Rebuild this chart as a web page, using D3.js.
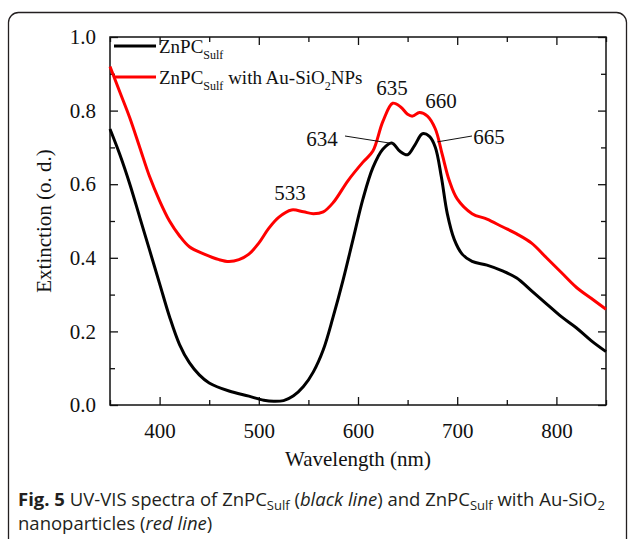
<!DOCTYPE html>
<html lang="en">
<head>
  <meta charset="UTF-8">
  <title>UV-VIS spectra</title>
  <style>
    body {
      margin: 0;
      background-color: white;
    }
    .serif {
      font-family: "Liberation Serif", "Times New Roman", serif;
      fill: #111;
    }
    .caption {
      font-family: "Open Sans", sans-serif;
      font-size: 18.5px;
      fill: #231f20;
    }
  </style>
</head>
<body>
  <svg id="chart" width="629" height="539"></svg>

  <script src="https://d3js.org/d3.v7.min.js"></script>
  <script>
    // ZnPC_Sulf (black line)
    var blackWl  = [350, 360, 370, 380, 390, 400, 410, 420, 430, 440, 450, 470, 490, 505, 515, 525, 535, 545, 555, 565, 575, 585, 595, 605, 615, 625, 634, 642, 650, 657, 665, 672, 678, 684, 690, 697, 705, 715, 730, 745, 760, 775, 790, 805, 820, 835, 850];
    var blackVal = [0.75, 0.68, 0.60, 0.51, 0.42, 0.33, 0.24, 0.165, 0.115, 0.082, 0.06, 0.038, 0.024, 0.013, 0.01, 0.012, 0.025, 0.05, 0.09, 0.15, 0.24, 0.34, 0.45, 0.56, 0.645, 0.695, 0.712, 0.69, 0.68, 0.705, 0.737, 0.73, 0.70, 0.62, 0.52, 0.45, 0.41, 0.39, 0.38, 0.365, 0.345, 0.31, 0.275, 0.24, 0.21, 0.175, 0.145];

    // ZnPC_Sulf with Au-SiO2 NPs (red line)
    var redWl  = [350, 360, 370, 380, 390, 400, 410, 420, 430, 445, 460, 470, 480, 490, 500, 510, 520, 533, 545, 555, 565, 575, 590, 605, 615, 625, 635, 643, 650, 655, 662, 670, 678, 685, 692, 700, 715, 730, 745, 760, 775, 790, 805, 820, 835, 850];
    var redVal = [0.92, 0.85, 0.78, 0.70, 0.62, 0.555, 0.50, 0.46, 0.43, 0.41, 0.395, 0.39, 0.395, 0.41, 0.44, 0.48, 0.51, 0.53, 0.525, 0.52, 0.525, 0.55, 0.61, 0.66, 0.69, 0.77, 0.82, 0.81, 0.79, 0.785, 0.795, 0.785, 0.75, 0.68, 0.61, 0.56, 0.52, 0.505, 0.485, 0.465, 0.44, 0.40, 0.36, 0.32, 0.29, 0.26];

    var xTicks = [400, 500, 600, 700, 800];
    var xMinor = [350, 450, 550, 650, 750, 850];
    var yTicks = [0.0, 0.2, 0.4, 0.6, 0.8, 1.0];
    var yMinor = [0.1, 0.3, 0.5, 0.7, 0.9];

    var peakLabels = ["533", "635", "660", "634", "665"];
    var peakWl     = [533, 635, 660, 634, 665];

    var svg = d3.select("#chart");

    // rounded frame around the figure
    svg.append("rect")
      .attr("x", 8.5)
      .attr("y", 12.5)
      .attr("width", 618)
      .attr("height", 540)
      .attr("rx", 10)
      .attr("fill", "white")
      .attr("stroke", "#231f20")
      .attr("stroke-width", 1.3);

    var margin = {left: 110, top: 37, right: 606, bottom: 405};

    var x = d3.scaleLinear().domain([350, 850]).range([margin.left, margin.right]);
    var y = d3.scaleLinear().domain([0, 1]).range([margin.bottom, margin.top]);

    var g = svg.append("g");

    // axes with inward ticks
    var axisStyle = function(sel) {
      sel.select(".domain").remove();
      sel.selectAll("line").attr("stroke", "#111").attr("stroke-width", 1.3);
      sel.selectAll("text").attr("class", "serif").style("font-size", "21px").attr("fill", "#111");
    };

    g.append("g")
      .attr("transform", "translate(0," + margin.bottom + ")")
      .call(d3.axisBottom(x).tickValues(xTicks).tickSize(-8).tickPadding(18).tickFormat(d3.format("d")))
      .call(axisStyle);
    g.append("g")
      .attr("transform", "translate(0," + margin.bottom + ")")
      .call(d3.axisBottom(x).tickValues(xMinor).tickSize(-5).tickFormat(""))
      .call(axisStyle);
    g.append("g")
      .attr("transform", "translate(0," + margin.top + ")")
      .call(d3.axisTop(x).tickValues(xTicks).tickSize(-8).tickFormat(""))
      .call(axisStyle);
    g.append("g")
      .attr("transform", "translate(0," + margin.top + ")")
      .call(d3.axisTop(x).tickValues(xMinor).tickSize(-5).tickFormat(""))
      .call(axisStyle);

    g.append("g")
      .attr("transform", "translate(" + margin.left + ",0)")
      .call(d3.axisLeft(y).tickValues(yTicks).tickSize(-8).tickPadding(14).tickFormat(d3.format(".1f")))
      .call(axisStyle);
    g.append("g")
      .attr("transform", "translate(" + margin.left + ",0)")
      .call(d3.axisLeft(y).tickValues(yMinor).tickSize(-5).tickFormat(""))
      .call(axisStyle);
    g.append("g")
      .attr("transform", "translate(" + margin.right + ",0)")
      .call(d3.axisRight(y).tickValues(yTicks).tickSize(-8).tickFormat(""))
      .call(axisStyle);
    g.append("g")
      .attr("transform", "translate(" + margin.right + ",0)")
      .call(d3.axisRight(y).tickValues(yMinor).tickSize(-5).tickFormat(""))
      .call(axisStyle);

    // plot box
    g.append("rect")
      .attr("x", margin.left)
      .attr("y", margin.top)
      .attr("width", margin.right - margin.left)
      .attr("height", margin.bottom - margin.top)
      .attr("fill", "none")
      .attr("stroke", "#111")
      .attr("stroke-width", 1.5);

    // curves
    var line = d3.line()
      .x(function(d) { return x(d[0]); })
      .y(function(d) { return y(d[1]); })
      .curve(d3.curveCatmullRom.alpha(0.5));

    var redData = d3.zip(redWl, redVal);
    var blackData = d3.zip(blackWl, blackVal);

    g.append("path")
      .datum(redData)
      .attr("d", line)
      .attr("fill", "none")
      .attr("stroke", "#ff0000")
      .attr("stroke-width", 3);

    g.append("path")
      .datum(blackData)
      .attr("d", line)
      .attr("fill", "none")
      .attr("stroke", "#000")
      .attr("stroke-width", 3);

    // axis titles
    svg.append("text")
      .attr("class", "serif")
      .attr("x", (margin.left + margin.right) / 2)
      .attr("y", 466)
      .attr("text-anchor", "middle")
      .style("font-size", "21px")
      .text("Wavelength (nm)");

    svg.append("text")
      .attr("class", "serif")
      .attr("transform", "translate(51," + (margin.top + margin.bottom) / 2 + ") rotate(-90)")
      .attr("text-anchor", "middle")
      .style("font-size", "21px")
      .text("Extinction (o. d.)");

    // legend
    var legendColors = ["#000", "#ff0000"];
    var legendY = [46, 77];
    legendColors.forEach(function(c, i) {
      svg.append("line")
        .attr("x1", 114).attr("x2", 156)
        .attr("y1", legendY[i]).attr("y2", legendY[i])
        .attr("stroke", c)
        .attr("stroke-width", 3);
      var t = svg.append("text")
        .attr("class", "serif")
        .attr("x", 159)
        .attr("y", legendY[i] + 7)
        .style("font-size", "19px");
      t.append("tspan").text("ZnPC");
      t.append("tspan").attr("dy", 6).style("font-size", "12px").text("Sulf");
      if (i === 1) {
        t.append("tspan").attr("dy", -6).text(" with Au-SiO");
        t.append("tspan").attr("dy", 6).style("font-size", "12px").text("2");
        t.append("tspan").attr("dy", -6).text("NPs");
      }
    });

    // peak labels
    var labelX = [290, 392, 441, 322, 489];
    var labelY = [200, 95, 108, 146, 144];
    peakLabels.forEach(function(lbl, i) {
      svg.append("text")
        .attr("class", "serif")
        .attr("x", labelX[i])
        .attr("y", labelY[i])
        .attr("text-anchor", "middle")
        .style("font-size", "21px")
        .text(lbl);
    });

    // leader lines for the black peaks
    svg.append("line")
      .attr("x1", 345).attr("y1", 136)
      .attr("x2", x(peakWl[3]) + 2).attr("y2", y(0.71))
      .attr("stroke", "#111").attr("stroke-width", 1);
    svg.append("line")
      .attr("x1", 472).attr("y1", 136)
      .attr("x2", x(680)).attr("y2", y(0.715))
      .attr("stroke", "#111").attr("stroke-width", 1);

    // caption
    var cap = svg.append("text").attr("class", "caption").attr("x", 18).attr("y", 506);
    cap.append("tspan").style("font-weight", "bold").text("Fig. 5");
    cap.append("tspan").text(" UV-VIS spectra of ZnPC");
    cap.append("tspan").attr("dy", 4).style("font-size", "13px").text("Sulf");
    cap.append("tspan").attr("dy", -4).text(" (");
    cap.append("tspan").style("font-style", "italic").text("black line");
    cap.append("tspan").text(") and ZnPC");
    cap.append("tspan").attr("dy", 4).style("font-size", "13px").text("Sulf");
    cap.append("tspan").attr("dy", -4).text(" with Au-SiO");
    cap.append("tspan").attr("dy", 4).style("font-size", "13px").text("2");

    var cap2 = svg.append("text").attr("class", "caption").attr("x", 18).attr("y", 530);
    cap2.append("tspan").text("nanoparticles (");
    cap2.append("tspan").style("font-style", "italic").text("red line");
    cap2.append("tspan").text(")");
  </script>
</body>
</html>
